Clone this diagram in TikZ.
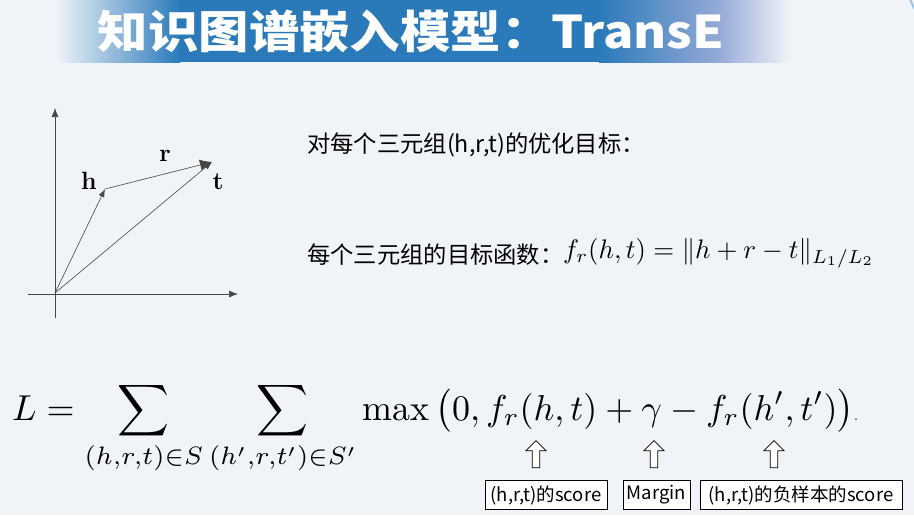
\documentclass[tikz,border=0pt]{standalone}
\usepackage{amsmath}
\usepackage{fontspec}
\usetikzlibrary{shapes.arrows,arrows.meta}
\newfontfamily\cjk{Noto Sans CJK SC}
\definecolor{bgc}{RGB}{240,244,248}
\definecolor{bluec}{RGB}{42,122,186}
\definecolor{lavc}{RGB}{150,170,215}
\definecolor{inkc}{RGB}{70,70,70}
\tikzset{
  vec/.style={draw=inkc, line width=0.6pt, -{Latex[length=8pt,width=6pt]}},
  bigvec/.style={draw=inkc, line width=0.6pt, -{Latex[length=12pt,width=11pt]}},
  axis/.style={draw=inkc, line width=0.7pt, -{Latex[length=9pt,width=7pt]}},
  lbl/.style={font=\fontsize{25}{25}\selectfont\bfseries, inner sep=0pt},
  cn/.style={font=\cjk\fontsize{23.3}{23.3}\selectfont, inner sep=0pt},
  tag/.style={draw=black, line width=0.8pt, fill=white, font=\cjk\fontsize{18.5}{18.5}\selectfont, inner sep=2pt, minimum height=29pt},
  hollow/.style={single arrow, draw=black, line width=0.8pt, fill=white, shape border rotate=90, minimum width=20pt, minimum height=27pt, single arrow head extend=5pt, inner sep=2.5pt}
}
\begin{document}
\begin{tikzpicture}[x=1pt,y=-1pt]
\useasboundingbox (0,0) rectangle (914,515);
\fill[bgc] (0,0) rectangle (914,515);
% banner
\fill[left color=bgc, right color=bluec] (55,0) rectangle (180,62);
\fill[bluec] (179,0) rectangle (600,62);
\fill[left color=bluec, right color=lavc] (599,0) rectangle (720,62);
\fill[left color=lavc, right color=bgc] (719,0) rectangle (790,62);
\node[text=white, font=\cjk\bfseries\fontsize{45}{45}\selectfont, inner sep=0pt] (title) at (411,31) {\scalebox{1.12}[1]{知识图谱嵌入模型：TransE}};
% right decoration
\draw[bluec!45, line width=2pt] (990,-30) circle (85);
% axes
\coordinate (o) at (55,293);
\coordinate (xs) at (28,294);
\coordinate (xe) at (238,294);
\coordinate (ys) at (55,318);
\coordinate (ye) at (55,108);
\coordinate (hp) at (105,189);
\coordinate (tp) at (212,162);
\draw[axis] (xs) -- (xe);
\draw[axis] (ys) -- (ye);
\draw[vec] (o) -- (hp);
\draw[bigvec] (hp) -- (tp);
\draw[vec] (o) -- (tp);
\node[lbl] (hl) at (89,181) {h};
\node[lbl] (rl) at (165,156) {r};
\node[lbl] (tl) at (218,182) {t};
% texts
\node[cn, anchor=west] (t1) at (307,145) {对每个三元组(h,r,t)的优化目标：};
\node[cn, anchor=west] (t2) at (307,255) {每个三元组的目标函数：};
\node[anchor=west, inner sep=0pt] (f1) at (563,253) {\scalebox{2.68}{$f_r(h,t)=\|h+r-t\|_{L_1/L_2}$}};
% big formula
\node[anchor=base west, inner sep=0pt] (F) at (12,420)
  {\scalebox{3.6}{$\displaystyle L=\sum_{(h,r,t)\in S}\sum_{(h',r,t')\in S'}\max\,\bigl(0,f_r(h,t)+\gamma-f_r(h',t')\bigr)$\scalebox{0.4}{.}}};
% arrows and tags
\node[hollow] (a1) at (536,456) {};
\node[hollow] (a2) at (654,456) {};
\node[hollow] (a3) at (774,456) {};
\node[tag, minimum width=122pt] (b1) at (546,495) {(h,r,t)的score};
\node[tag, minimum width=67pt] (b2) at (656.5,495) {Margin};
\node[tag, minimum width=202pt] (b3) at (801,495) {(h,r,t)的负样本的score};
\end{tikzpicture}
\end{document}
